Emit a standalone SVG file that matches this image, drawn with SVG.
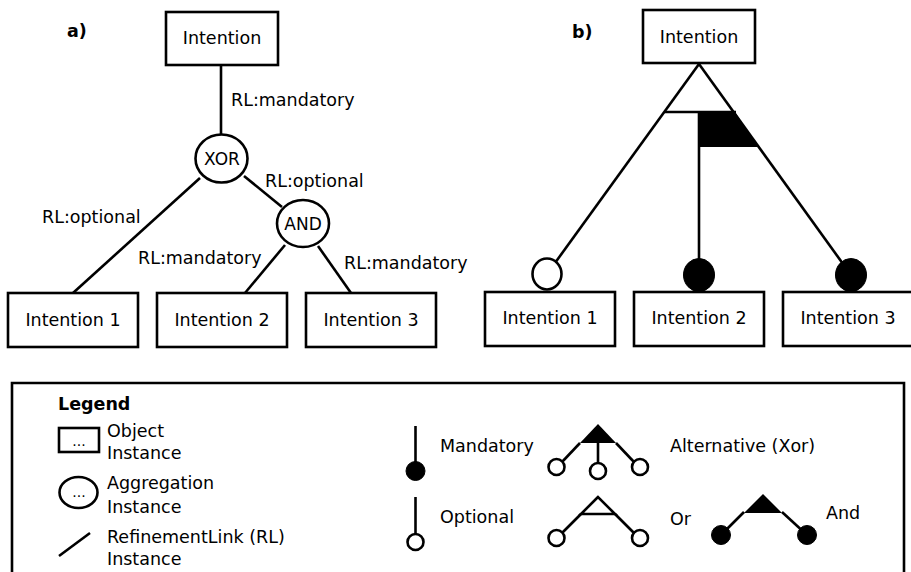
<svg xmlns="http://www.w3.org/2000/svg" width="911" height="572" viewBox="0 0 911 572">
<style>
text{font-family:"DejaVu Sans","Liberation Sans",sans-serif;font-size:17.5px;fill:#000}
.m{text-anchor:middle}
.b{font-weight:bold}
.box{fill:#fff;stroke:#000;stroke-width:2.6}
.ln{stroke:#000;stroke-width:2.6;fill:none}
.ow{fill:#fff;stroke:#000;stroke-width:2.6}
.blk{fill:#000;stroke:#000;stroke-width:1}
</style>
<rect width="911" height="572" fill="#fff"/>

<!-- Part a -->
<text class="b" x="67" y="37">a)</text>
<g id="a-connectors">
<line class="ln" x1="221" y1="65" x2="221" y2="134"/>
<line class="ln" x1="200" y1="178" x2="73" y2="293"/>
<line class="ln" x1="244" y1="176" x2="282" y2="207"/>
<line class="ln" x1="285" y1="245" x2="245" y2="293"/>
<line class="ln" x1="318" y1="246" x2="351" y2="293"/>
<text x="231" y="106">RL:mandatory</text>
<text x="42" y="223">RL:optional</text>
<text x="265" y="187">RL:optional</text>
<text x="138" y="264">RL:mandatory</text>
<text x="344" y="269">RL:mandatory</text>
</g>
<g id="a-intention"><rect class="box" x="166" y="12" width="112" height="53"/><text class="m" x="222" y="44">Intention</text></g>
<g id="a-xor"><ellipse class="ow" cx="221.5" cy="158.5" rx="26" ry="24"/><text class="m" x="222" y="165" style="font-size:17px">XOR</text></g>
<g id="a-and"><ellipse class="ow" cx="303" cy="223.5" rx="26" ry="23.5"/><text class="m" x="303" y="230" style="font-size:17px">AND</text></g>
<g id="a-int1"><rect class="box" x="8" y="293" width="130" height="54"/><text class="m" x="73" y="326">Intention 1</text></g>
<g id="a-int2"><rect class="box" x="157" y="293" width="130" height="54"/><text class="m" x="222" y="326">Intention 2</text></g>
<g id="a-int3"><rect class="box" x="306" y="293" width="130" height="54"/><text class="m" x="371" y="326">Intention 3</text></g>

<!-- Part b -->
<text class="b" x="572" y="38">b)</text>
<g id="b-connectors">
<polygon fill="#000" points="699,112 735,112 758,147 699,147"/>
<line class="ln" x1="699" y1="64" x2="547" y2="274"/>
<line class="ln" x1="699" y1="64" x2="851" y2="275"/>
<line class="ln" x1="664" y1="112" x2="736" y2="112"/>
<line class="ln" x1="699" y1="112" x2="699" y2="275"/>
<ellipse class="ow" cx="547" cy="274" rx="14.5" ry="15.5"/>
<ellipse class="blk" cx="699" cy="275" rx="15.5" ry="16.5"/>
<ellipse class="blk" cx="851" cy="275" rx="15.5" ry="16.5"/>
</g>
<g id="b-intention"><rect class="box" x="643" y="10" width="112" height="53"/><text class="m" x="699" y="43">Intention</text></g>
<g id="b-int1"><rect class="box" x="485" y="292" width="130" height="54"/><text class="m" x="550" y="324">Intention 1</text></g>
<g id="b-int2"><rect class="box" x="634" y="292" width="130" height="54"/><text class="m" x="699" y="324">Intention 2</text></g>
<g id="b-int3"><rect class="box" x="783" y="292" width="130" height="54"/><text class="m" x="848" y="324">Intention 3</text></g>

<!-- Legend -->
<g id="legend">
<path class="ln" d="M12,575 V383 H904 V575"/>
<text class="b" x="58" y="410">Legend</text>
<rect class="box" x="59" y="428" width="40" height="24"/>
<text class="m" x="79" y="446" style="font-size:14px">...</text>
<text x="107" y="437">Object</text>
<text x="107" y="459">Instance</text>
<ellipse class="ow" cx="78.5" cy="492.5" rx="19" ry="15.5"/>
<text class="m" x="79" y="497" style="font-size:14px">...</text>
<text x="107" y="489">Aggregation</text>
<text x="107" y="513">Instance</text>
<line class="ln" x1="59" y1="556" x2="90" y2="533"/>
<text x="107" y="543">RefinementLink (RL)</text>
<text x="107" y="565">Instance</text>

<line class="ln" x1="415.5" y1="426" x2="415.5" y2="470"/>
<circle class="blk" cx="415.5" cy="471" r="9.5"/>
<text x="440" y="452">Mandatory</text>
<line class="ln" x1="415.5" y1="497" x2="415.5" y2="535"/>
<circle class="ow" cx="415.5" cy="542" r="8"/>
<text x="440" y="523">Optional</text>

<polygon fill="#000" points="598,424 580,443 616,443"/>
<line class="ln" x1="580" y1="443" x2="562" y2="462"/>
<line class="ln" x1="616" y1="443" x2="634" y2="462"/>
<line class="ln" x1="598" y1="443" x2="598" y2="463"/>
<circle class="ow" cx="556.5" cy="467" r="8"/>
<circle class="ow" cx="598" cy="471" r="8"/>
<circle class="ow" cx="640" cy="467" r="8"/>
<text x="670" y="452">Alternative (Xor)</text>

<polygon class="ow" points="598,497 581,514 615,514"/>
<line class="ln" x1="581" y1="514" x2="562" y2="533"/>
<line class="ln" x1="615" y1="514" x2="634" y2="533"/>
<circle class="ow" cx="556.5" cy="538" r="8"/>
<circle class="ow" cx="640" cy="538" r="8"/>
<text x="670" y="525">Or</text>

<polygon fill="#000" points="763,494 744,513 782,513"/>
<line class="ln" x1="744" y1="512" x2="721" y2="535"/>
<line class="ln" x1="782" y1="512" x2="807" y2="535"/>
<circle class="blk" cx="721" cy="535" r="9.5"/>
<circle class="blk" cx="807" cy="535" r="9.5"/>
<text x="826" y="519">And</text>
</g>
</svg>
